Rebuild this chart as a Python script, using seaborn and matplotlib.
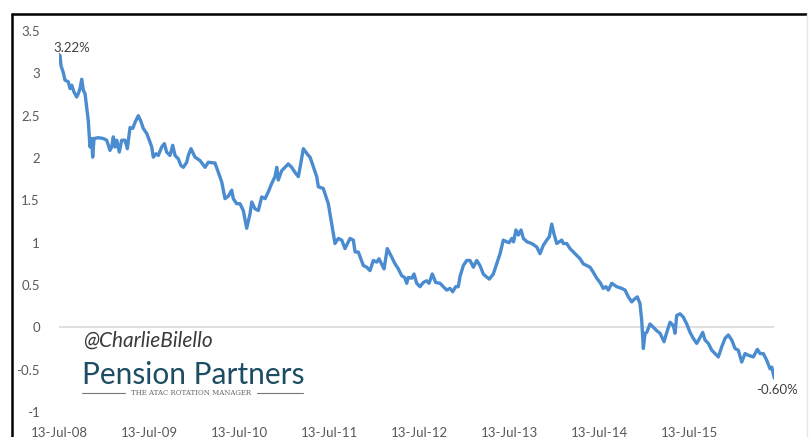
import numpy as np
import pandas as pd
import matplotlib
matplotlib.use('Agg')
import matplotlib.pyplot as plt
import seaborn as sns
from matplotlib.lines import Line2D

# yield (%), x in decimal years
years = [2008.530, 2008.538, 2008.549, 2008.574, 2008.593, 2008.630, 2008.649, 2008.668,
         2008.693, 2008.723, 2008.741, 2008.760, 2008.779, 2008.797, 2008.816, 2008.834,
         2008.852, 2008.863, 2008.871, 2008.890, 2008.901, 2008.916, 2008.963, 2009.019,
         2009.057, 2009.093, 2009.112, 2009.130, 2009.149, 2009.168, 2009.197, 2009.223,
         2009.260, 2009.286, 2009.316, 2009.346, 2009.371, 2009.408, 2009.434, 2009.463,
         2009.501, 2009.530, 2009.557, 2009.574, 2009.604, 2009.630, 2009.668, 2009.697,
         2009.723, 2009.760, 2009.790, 2009.816, 2009.852, 2009.882, 2009.908, 2009.946,
         2009.963, 2009.993, 2010.038, 2010.093, 2010.149, 2010.186, 2010.260, 2010.297,
         2010.334, 2010.352, 2010.371, 2010.408, 2010.446, 2010.463, 2010.501, 2010.538,
         2010.574, 2010.612, 2010.649, 2010.668, 2010.704, 2010.741, 2010.779, 2010.816,
         2010.852, 2010.890, 2010.927, 2010.946, 2010.963, 2011.001, 2011.038, 2011.074,
         2011.112, 2011.149, 2011.186, 2011.212, 2011.241, 2011.297, 2011.316, 2011.352,
         2011.390, 2011.408, 2011.463, 2011.501, 2011.519, 2011.557, 2011.574, 2011.593,
         2011.630, 2011.668, 2011.704, 2011.741, 2011.760, 2011.797, 2011.816, 2011.852,
         2011.908, 2011.946, 2011.982, 2012.019, 2012.057, 2012.082, 2012.138, 2012.174,
         2012.223, 2012.260, 2012.297, 2012.334, 2012.366, 2012.390, 2012.408, 2012.446,
         2012.471, 2012.501, 2012.538, 2012.574, 2012.612, 2012.638, 2012.674, 2012.712,
         2012.760, 2012.797, 2012.834, 2012.871, 2012.901, 2012.934, 2012.963, 2012.982,
         2013.019, 2013.057, 2013.093, 2013.130, 2013.168, 2013.204, 2013.241, 2013.271,
         2013.308, 2013.352, 2013.390, 2013.427, 2013.463, 2013.501, 2013.527, 2013.557,
         2013.577, 2013.604, 2013.630, 2013.660, 2013.686, 2013.727, 2013.779, 2013.834,
         2013.871, 2013.908, 2013.946, 2013.974, 2014.001, 2014.027, 2014.057, 2014.112,
         2014.130, 2014.168, 2014.204, 2014.260, 2014.316, 2014.352, 2014.390, 2014.427,
         2014.463, 2014.501, 2014.538, 2014.574, 2014.604, 2014.630, 2014.668, 2014.723,
         2014.779, 2014.816, 2014.852, 2014.890, 2014.916, 2014.952, 2014.982, 2015.001,
         2015.019, 2015.038, 2015.057, 2015.093, 2015.130, 2015.168, 2015.204, 2015.249,
         2015.279, 2015.316, 2015.352, 2015.371, 2015.390, 2015.427, 2015.463, 2015.501,
         2015.538, 2015.574, 2015.612, 2015.649, 2015.679, 2015.704, 2015.741, 2015.779,
         2015.816, 2015.852, 2015.890, 2015.927, 2015.963, 2016.001, 2016.038, 2016.074,
         2016.112, 2016.149, 2016.186, 2016.241, 2016.286, 2016.316, 2016.352, 2016.390,
         2016.427, 2016.446, 2016.474]
yields = [3.22, 3.21, 3.09, 3.01, 2.92, 2.90, 2.82, 2.86,
          2.78, 2.72, 2.76, 2.82, 2.93, 2.80, 2.76, 2.60,
          2.44, 2.25, 2.13, 2.23, 2.01, 2.23, 2.24, 2.23,
          2.21, 2.09, 2.13, 2.25, 2.13, 2.21, 2.07, 2.21,
          2.21, 2.11, 2.36, 2.35, 2.42, 2.50, 2.44, 2.35,
          2.29, 2.21, 2.13, 2.01, 2.05, 2.03, 2.13, 2.17,
          2.07, 2.03, 2.15, 2.03, 1.99, 1.91, 1.89, 1.95,
          2.03, 2.11, 2.01, 1.97, 1.89, 1.95, 1.94, 1.83,
          1.72, 1.62, 1.52, 1.55, 1.62, 1.52, 1.46, 1.46,
          1.38, 1.17, 1.34, 1.48, 1.40, 1.38, 1.54, 1.52,
          1.60, 1.70, 1.78, 1.89, 1.74, 1.85, 1.89, 1.93,
          1.89, 1.83, 1.78, 1.93, 2.11, 2.03, 2.01, 1.90,
          1.78, 1.66, 1.64, 1.52, 1.46, 1.22, 1.11, 0.99,
          1.05, 1.03, 0.93, 1.01, 1.05, 1.03, 0.89, 0.89,
          0.73, 0.71, 0.67, 0.79, 0.77, 0.81, 0.69, 0.93,
          0.83, 0.75, 0.69, 0.61, 0.59, 0.52, 0.59, 0.58,
          0.63, 0.52, 0.48, 0.53, 0.55, 0.52, 0.63, 0.53,
          0.52, 0.48, 0.44, 0.46, 0.42, 0.48, 0.48, 0.60,
          0.73, 0.79, 0.79, 0.71, 0.79, 0.73, 0.63, 0.60,
          0.57, 0.63, 0.75, 0.87, 1.03, 1.01, 1.00, 1.05,
          1.01, 1.15, 1.09, 1.15, 1.05, 1.01, 0.99, 0.95,
          0.87, 0.97, 1.03, 1.07, 1.22, 1.10, 0.99, 1.03,
          0.99, 0.99, 0.93, 0.87, 0.81, 0.75, 0.73, 0.71,
          0.65, 0.58, 0.53, 0.46, 0.48, 0.44, 0.52, 0.48,
          0.46, 0.44, 0.36, 0.30, 0.33, 0.36, 0.28, 0.08,
          -0.25, -0.07, -0.06, 0.04, 0.00, -0.04, -0.07, -0.17,
          -0.06, 0.06, 0.02, -0.07, 0.14, 0.16, 0.12, 0.04,
          -0.06, -0.13, -0.19, -0.12, -0.06, -0.15, -0.19, -0.27,
          -0.31, -0.35, -0.23, -0.13, -0.09, -0.15, -0.25, -0.27,
          -0.41, -0.31, -0.33, -0.35, -0.26, -0.31, -0.31, -0.39,
          -0.49, -0.47, -0.60]

tick_years = [2008.53, 2009.53, 2010.53, 2011.53, 2012.53, 2013.53, 2014.53, 2015.53]
tick_labels = ['13-Jul-08', '13-Jul-09', '13-Jul-10', '13-Jul-11',
               '13-Jul-12', '13-Jul-13', '13-Jul-14', '13-Jul-15']
y_ticks = [-1, -0.5, 0, 0.5, 1, 1.5, 2, 2.5, 3, 3.5]
y_labels = ['-1', '-0.5', '0', '0.5', '1', '1.5', '2', '2.5', '3', '3.5']

df = pd.DataFrame({'year': years, 'yield': yields})

sns.set_style('white')
plt.rcParams['font.family'] = ['Lato', 'DejaVu Sans']

fig = plt.figure(figsize=(8.09, 4.37), dpi=100)
ax = fig.add_axes([59.3/809, 1 - 412/437, (774.3 - 59.3)/809, (412 - 31)/437])

ax.axhline(0, color='#d9d9d9', lw=1.2, zorder=1)
sns.lineplot(data=df, x='year', y='yield', color='#4a8ccf', lw=2.4, ax=ax, zorder=3)

ax.set_xlim(years[0], years[-1])
ax.set_ylim(-1, 3.5)
ax.set_xticks(tick_years)
ax.set_xticklabels(tick_labels)
ax.set_yticks(y_ticks)
ax.set_yticklabels(y_labels)
ax.tick_params(axis='both', length=0, labelsize=9.5, labelcolor='#595959')
ax.tick_params(axis='y', pad=14)
ax.tick_params(axis='x', pad=11)
for s in ax.spines.values():
    s.set_visible(False)
ax.set_xlabel('')
ax.set_ylabel('')
ax.patch.set_alpha(0)

# end labels
ax.annotate('3.22%', (years[0], yields[0]), xytext=(-6, 1), textcoords='offset pixels',
            ha='left', va='bottom', fontsize=9.5, color='#404040')
ax.annotate('-0.60%', (years[-1], yields[-1]), xytext=(3, -6), textcoords='offset pixels',
            ha='center', va='top', fontsize=9.5, color='#404040')

# watermark
fig.text(83/809, 1 - 341/437, '@CharlieBilello', fontsize=15, style='italic',
         color='#3a3a3a', ha='left', va='center')
fig.text(82/809, 1 - 384/437, 'Pension Partners', fontsize=21.5, color='#1d4d63',
         ha='left', va='baseline')
fig.text(191/809, 1 - 393/437, 'THE ATAC ROTATION MANAGER', fontsize=5,
         family='DejaVu Serif', color='#666666', ha='center', va='center')
fig.add_artist(Line2D([82/809, 125/809], [1 - 393/437] * 2, color='#777777', lw=0.8))
fig.add_artist(Line2D([257/809, 303/809], [1 - 393/437] * 2, color='#777777', lw=0.8))

# outer frame of the crop
top = 1 - 14/437
left = 12/809
fig.add_artist(Line2D([left, 806/809], [top, top], color='black', lw=1.8))
fig.add_artist(Line2D([left, left], [0, top], color='black', lw=1.8))
fig.add_artist(Line2D([807/809, 807/809], [0, top], color='#e6e6e6', lw=1))

fig.savefig('out.png', dpi=100)
